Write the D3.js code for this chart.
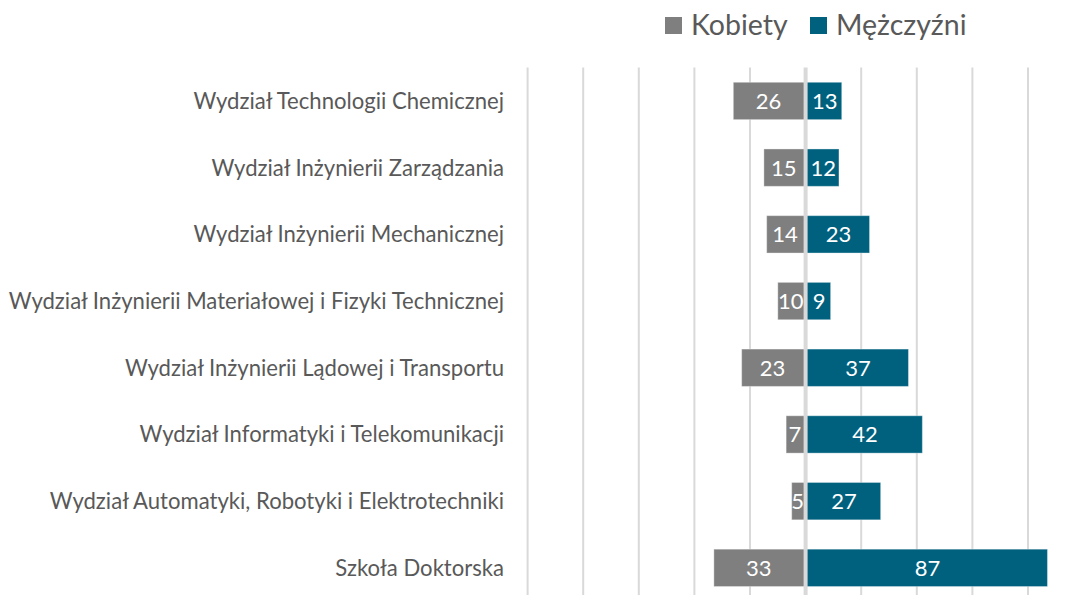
<!DOCTYPE html>
<html>
<head>
<meta charset="utf-8">
<script src="https://cdn.jsdelivr.net/npm/d3@7"></script>
<style>
  html, body { margin: 0; padding: 0; background: #ffffff; }
  svg { display: block; }
  text { font-family: Lato, "Open Sans", sans-serif; }
</style>
</head>
<body>
<svg id="chart" width="1072" height="595"></svg>
<script>
// Faculty names, top to bottom
const categories = [
  "Wydział Technologii Chemicznej",
  "Wydział Inżynierii Zarządzania",
  "Wydział Inżynierii Mechanicznej",
  "Wydział Inżynierii Materiałowej i Fizyki Technicznej",
  "Wydział Inżynierii Lądowej i Transportu",
  "Wydział Informatyki i Telekomunikacji",
  "Wydział Automatyki, Robotyki i Elektrotechniki",
  "Szkoła Doktorska"
];
// Women (drawn to the left) and men (drawn to the right)
const kobiety = [26, 15, 14, 10, 23, 7, 5, 33];
const mezczyzni = [13, 12, 23, 9, 37, 42, 27, 87];
const seriesNames = ["Kobiety", "Mężczyźni"];
const gridTicks = [-100, -80, -60, -40, -20, 20, 40, 60, 80, 100];

const colors = { Kobiety: "#7f7f7f", "Mężczyźni": "#00617f" };
const textColor = "#595959";

const svg = d3.select("#chart");
const plot = { left: 527.6, right: 1083.6, top: 67.6, bottom: 601.2 };

const x = d3.scaleLinear().domain([-100, 100]).range([plot.left, plot.right]);
const y = d3.scaleBand().domain(categories)
  .range([plot.top, plot.bottom])
  .paddingInner(0.44).paddingOuter(0.22);

// vertical gridlines
svg.append("g").selectAll("line").data(gridTicks).join("line")
  .attr("x1", d => x(d)).attr("x2", d => x(d))
  .attr("y1", plot.top).attr("y2", plot.bottom)
  .attr("stroke", "#d9d9d9").attr("stroke-width", 2);

const rows = categories.map((c, i) => ({ cat: c, k: kobiety[i], m: mezczyzni[i] }));

// bars
const bars = svg.append("g");
bars.selectAll("rect.k").data(rows).join("rect").attr("class", "k")
  .attr("x", d => x(-d.k)).attr("width", d => x(0) - x(-d.k))
  .attr("y", d => y(d.cat)).attr("height", y.bandwidth())
  .attr("fill", colors.Kobiety)
  .attr("stroke", "#ffffff").attr("stroke-opacity", 0.35).attr("stroke-width", 1);
bars.selectAll("rect.m").data(rows).join("rect").attr("class", "m")
  .attr("x", x(0)).attr("width", d => x(d.m) - x(0))
  .attr("y", d => y(d.cat)).attr("height", y.bandwidth())
  .attr("fill", colors["Mężczyźni"])
  .attr("stroke", "#ffffff").attr("stroke-opacity", 0.35).attr("stroke-width", 1);

// centre axis
svg.append("line")
  .attr("x1", x(0)).attr("x2", x(0))
  .attr("y1", plot.top).attr("y2", plot.bottom)
  .attr("stroke", "#d9d9d9").attr("stroke-width", 4);

// value labels inside bars
const lbl = svg.append("g").attr("fill", "#ffffff").attr("font-size", 22)
  .attr("text-anchor", "middle");
lbl.selectAll("text.k").data(rows).join("text").attr("class", "k")
  .attr("x", d => (x(-d.k) + x(0) - 2) / 2)
  .attr("y", d => y(d.cat) + y.bandwidth() / 2)
  .attr("dy", "0.36em")
  .text(d => d.k);
lbl.selectAll("text.m").data(rows).join("text").attr("class", "m")
  .attr("x", d => (x(0) + 2 + x(d.m)) / 2)
  .attr("y", d => y(d.cat) + y.bandwidth() / 2)
  .attr("dy", "0.36em")
  .text(d => d.m);

// category labels
svg.append("g").selectAll("text").data(categories).join("text")
  .attr("x", 504)
  .attr("y", d => y(d) + y.bandwidth() / 2)
  .attr("dy", "0.36em")
  .attr("text-anchor", "end")
  .attr("font-size", 22.1)
  .attr("fill", textColor)
  .text(d => d);

// legend
const legendX = [665, 810];
const legend = svg.append("g");
seriesNames.forEach((name, i) => {
  legend.append("rect")
    .attr("x", legendX[i]).attr("y", 17).attr("width", 17).attr("height", 17)
    .attr("fill", colors[name]);
  legend.append("text")
    .attr("x", legendX[i] + 26).attr("y", 34.5)
    .attr("font-size", 28.5).attr("fill", textColor)
    .text(name);
});
</script>
</body>
</html>
